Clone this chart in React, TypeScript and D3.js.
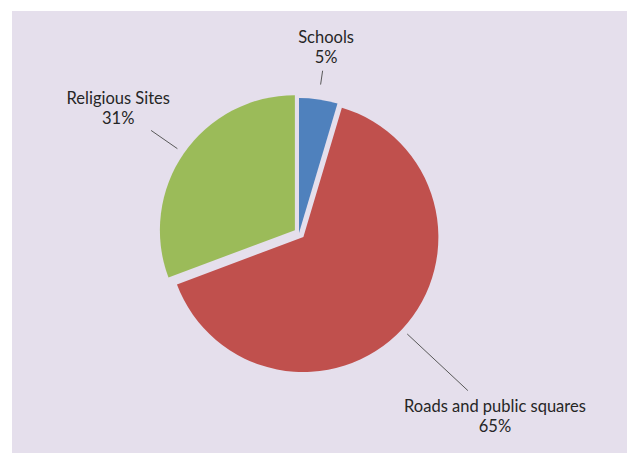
import React from "react";
import * as d3 from "d3";

const categories = ["Schools", "Roads and public squares", "Religious Sites"];
const values = [4.6, 64.7, 30.7];
const colors = ["#4F81BD", "#C0504D", "#9BBB59"];
// styling per slice (pixels)
const explode = [0, 6, 5];
const leaderFrom = [150, 148, 148];
const leaderTo = [164, 231, 180];
const labelDist = [188, 268, 220];

const W = 627;
const H = 453;
const cx = 299;
const cy = 233;
const R = 135;

export default function App() {
  const pie = d3.pie<number>().sort(null).value((d) => d);
  const arcs = pie(values);
  const arcGen = d3.arc<d3.PieArcDatum<number>>().innerRadius(0).outerRadius(R);
  const total = d3.sum(values);
  const font = "Lato, 'Open Sans', sans-serif";

  return (
    <svg
      width={W}
      height={H}
      style={{ position: "absolute", left: 0, top: 0, background: "#ffffff" }}
    >
      <rect x={12} y={11} width={W - 12} height={H - 11} fill="#E5DFEC" />
      <g transform={`translate(${cx},${cy})`}>
        {arcs.map((a, i) => {
          const mid = (a.startAngle + a.endAngle) / 2;
          const ux = Math.sin(mid);
          const uy = -Math.cos(mid);
          const ox = ux * explode[i];
          const oy = uy * explode[i];
          return (
            <path
              key={"s" + i}
              d={arcGen(a) || ""}
              transform={`translate(${ox},${oy})`}
              fill={colors[i]}
            />
          );
        })}
        {arcs.map((a, i) => {
          const mid = (a.startAngle + a.endAngle) / 2;
          const ux = Math.sin(mid);
          const uy = -Math.cos(mid);
          const lx = ux * labelDist[i];
          const ly = uy * labelDist[i];
          const pct = Math.round((values[i] / total) * 100) + "%";
          return (
            <g key={"l" + i}>
              <line
                x1={ux * leaderFrom[i]}
                y1={uy * leaderFrom[i]}
                x2={ux * leaderTo[i]}
                y2={uy * leaderTo[i]}
                stroke="#595959"
                strokeWidth={1}
              />
              <text
                x={lx}
                y={ly - 10}
                textAnchor="middle"
                dominantBaseline="central"
                fontFamily={font}
                fontSize={16.5}
                fill="#262626"
              >
                {categories[i]}
              </text>
              <text
                x={lx}
                y={ly + 10}
                textAnchor="middle"
                dominantBaseline="central"
                fontFamily={font}
                fontSize={16.5}
                fill="#262626"
              >
                {pct}
              </text>
            </g>
          );
        })}
      </g>
    </svg>
  );
}
